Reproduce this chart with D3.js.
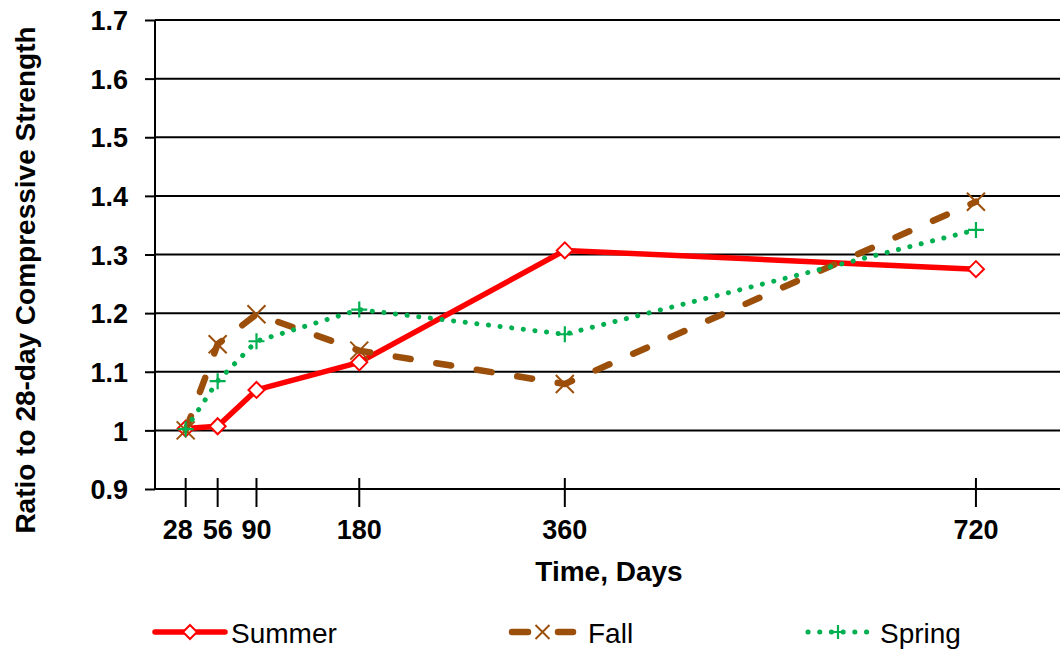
<!DOCTYPE html>
<html>
<head>
<meta charset="utf-8">
<script src="https://cdn.jsdelivr.net/npm/d3@7"></script>
<style>
  html, body { margin: 0; padding: 0; background: #fff; }
  svg { display: block; font-family: "Liberation Sans", Arial, sans-serif; }
</style>
</head>
<body>
<svg id="chart" width="1060" height="650"></svg>
<script>
// ---- data ----
const days = [28, 56, 90, 180, 360, 720];
const tickLabels = ["28", "56", "90", "180", "360", "720"];
const yTicks = [0.9, 1.0, 1.1, 1.2, 1.3, 1.4, 1.5, 1.6, 1.7];
const yTickLabels = ["0.9", "1", "1.1", "1.2", "1.3", "1.4", "1.5", "1.6", "1.7"];
const seriesNames = ["Summer", "Fall", "Spring"];
const summer = [1.003, 1.007, 1.069, 1.116, 1.307, 1.275];
const fall   = [1.000, 1.147, 1.198, 1.136, 1.079, 1.390];
const spring = [1.002, 1.084, 1.152, 1.206, 1.164, 1.342];

const svg = d3.select("#chart");
const plotLeft = 155, plotRight = 1060, plotTop = 20, plotBottom = 489;

const x = d3.scaleLinear().domain([0, 800]).range([153.7, 153.7 + 800 * 1.142]);
const y = d3.scaleLinear().domain([0.9, 1.7]).range([plotBottom, plotTop]);

// gridlines
svg.append("g").selectAll("line").data(yTicks.slice(1)).join("line")
  .attr("x1", plotLeft).attr("x2", plotRight)
  .attr("y1", d => y(d)).attr("y2", d => y(d))
  .attr("stroke", "#000").attr("stroke-width", 2);

// y axis
const yAxis = d3.axisLeft(y).tickValues(yTicks).tickSize(10)
  .tickFormat((d, i) => yTickLabels[i]);
const gy = svg.append("g").attr("transform", `translate(${plotLeft},0)`).call(yAxis);
gy.select(".domain").attr("stroke", "#000").attr("stroke-width", 2).attr("d", `M0,${plotTop}V${plotBottom}`);
gy.selectAll(".tick line").attr("stroke", "#000").attr("stroke-width", 2);
gy.selectAll(".tick text").attr("x", -27).attr("dy", "0.36em")
  .style("font-size", "27px").style("font-weight", "bold").attr("fill", "#000")
  .attr("font-family", "Liberation Sans, Arial, sans-serif");

// x axis baseline
svg.append("line").attr("x1", plotLeft).attr("x2", plotRight)
  .attr("y1", plotBottom).attr("y2", plotBottom)
  .attr("stroke", "#000").attr("stroke-width", 2);
// x ticks crossing the axis
const xt = svg.append("g");
xt.selectAll("line").data(days).join("line")
  .attr("x1", d => x(d)).attr("x2", d => x(d))
  .attr("y1", 478).attr("y2", 507)
  .attr("stroke", "#000").attr("stroke-width", 2);
xt.selectAll("text").data(days).join("text")
  .attr("x", (d, i) => x(d) + (i === 0 ? -8 : 0))
  .attr("y", 539)
  .attr("text-anchor", "middle")
  .style("font-size", "27px").style("font-weight", "bold")
  .text((d, i) => tickLabels[i]);

// axis titles
svg.append("text").attr("x", 609).attr("y", 581).attr("text-anchor", "middle")
  .style("font-size", "28px").style("font-weight", "bold").text("Time, Days");
svg.append("text").attr("transform", "translate(35,280) rotate(-90)")
  .attr("text-anchor", "middle")
  .style("font-size", "28px").style("font-weight", "bold")
  .text("Ratio to 28-day Compressive Strength");

// series
const styles = [
  { color: "#FF0000", width: 5.5, dash: null, cap: "round", marker: "diamond" },
  { color: "#9C4F0A", width: 6.5, dash: "15,26", cap: "round", marker: "x" },
  { color: "#00B050", width: 5, dash: "0.1,11.6", cap: "round", marker: "plus" }
];
const allData = [summer, fall, spring];

function drawMarker(g, type, cx, cy, color, s) {
  if (type === "diamond") {
    g.append("path")
      .attr("d", `M${cx},${cy - s}L${cx + s},${cy}L${cx},${cy + s}L${cx - s},${cy}Z`)
      .attr("fill", "#fff").attr("stroke", color).attr("stroke-width", 2);
  } else if (type === "x") {
    g.append("path")
      .attr("d", `M${cx - s},${cy - s}L${cx + s},${cy + s}M${cx - s},${cy + s}L${cx + s},${cy - s}`)
      .attr("stroke", color).attr("stroke-width", 2).attr("fill", "none");
  } else {
    g.append("path")
      .attr("d", `M${cx - s},${cy}L${cx + s},${cy}M${cx},${cy - s}L${cx},${cy + s}`)
      .attr("stroke", color).attr("stroke-width", 2.2).attr("fill", "none");
  }
}

const line = d3.line().x(d => x(d[0])).y(d => y(d[1]));
allData.forEach((vals, si) => {
  const st = styles[si];
  const pts = days.map((d, i) => [d, vals[i]]);
  const g = svg.append("g");
  g.append("path").datum(pts).attr("d", line)
    .attr("fill", "none").attr("stroke", st.color).attr("stroke-width", st.width)
    .attr("stroke-linecap", st.cap).attr("stroke-linejoin", "round")
    .attr("stroke-dasharray", st.dash);
  pts.forEach(p => drawMarker(g, st.marker, x(p[0]), y(p[1]), st.color, st.marker === "x" ? 9 : 8));
});

// legend
const legendItems = [
  { x1: 155, x2: 225, text: 231 },
  { x1: 512, x2: 573, text: 588 },
  { x1: 808, x2: 868, text: 880 }
];
const ly = 632;
legendItems.forEach((li, i) => {
  const st = styles[i];
  const g = svg.append("g");
  g.append("line").attr("x1", li.x1).attr("x2", li.x2).attr("y1", ly).attr("y2", ly)
    .attr("stroke", st.color).attr("stroke-width", st.width)
    .attr("stroke-linecap", st.cap)
    .attr("stroke-dasharray", i === 1 ? "16,30" : st.dash);
  drawMarker(g, st.marker, (li.x1 + li.x2) / 2, ly, st.color, 7);
  g.append("text").attr("x", li.text).attr("y", 643)
    .style("font-size", "28px").text(seriesNames[i]);
});
</script>
</body>
</html>
